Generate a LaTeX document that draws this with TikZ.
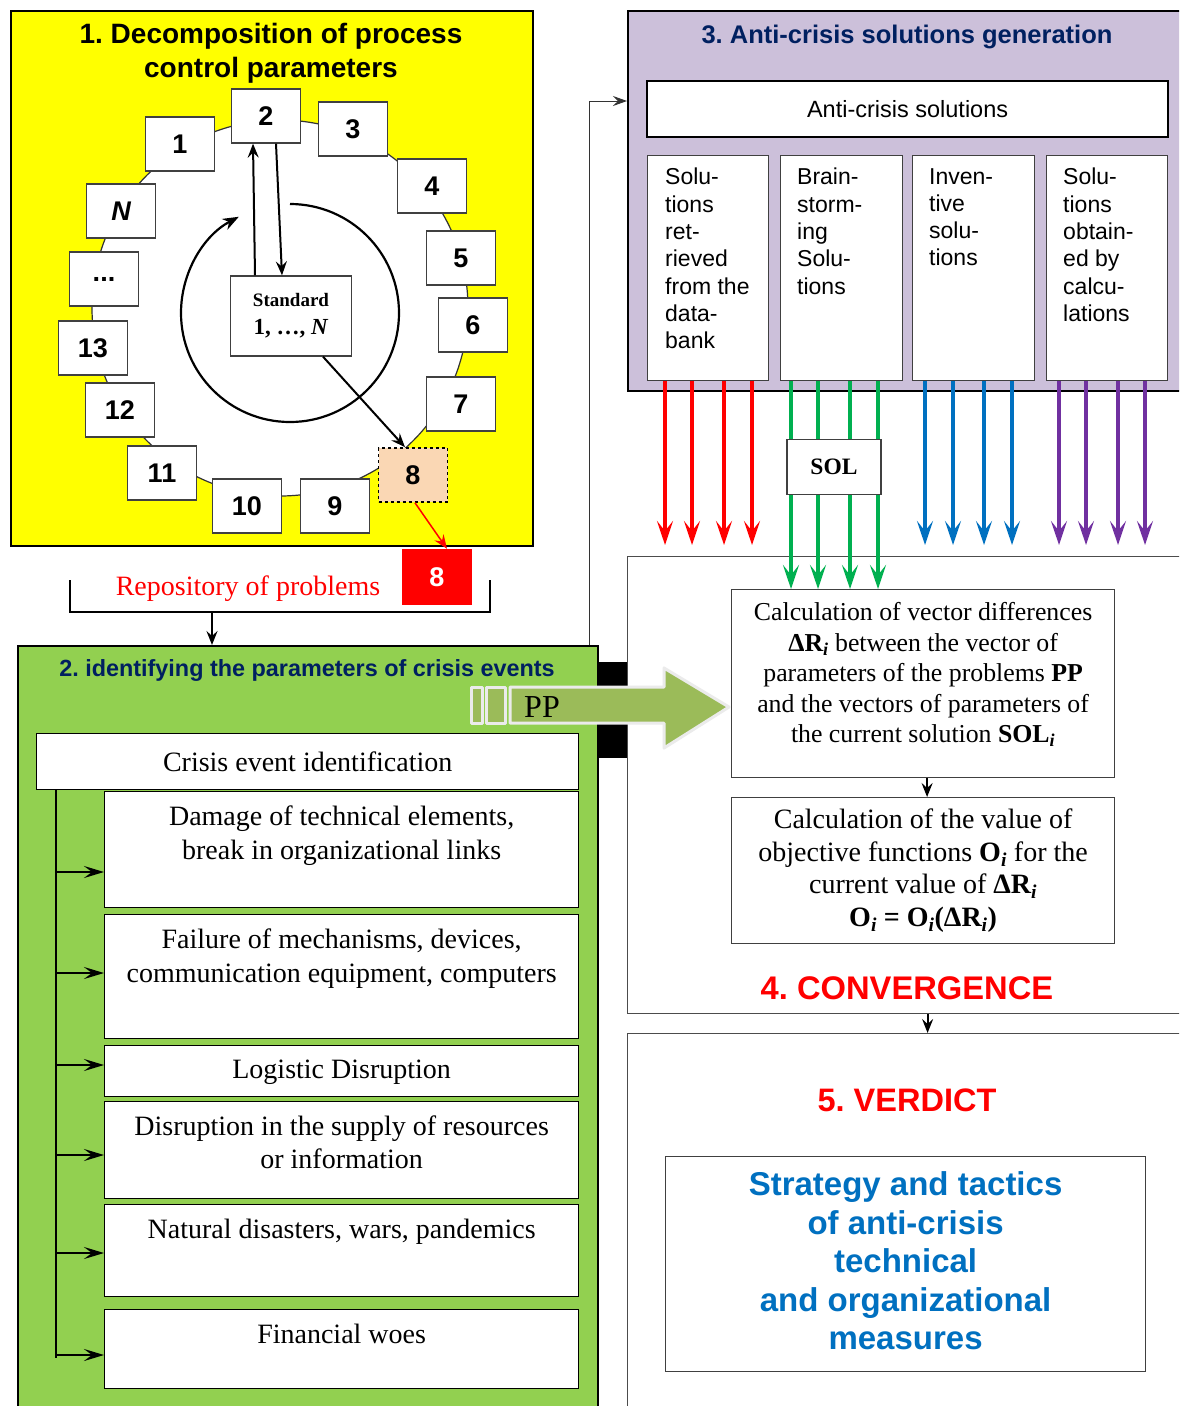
\documentclass[tikz,border=0pt]{standalone}
\usepackage{fontspec}
\setmainfont{Liberation Serif}
\setsansfont{Liberation Sans}
\usetikzlibrary{arrows.meta,positioning}
\frenchspacing
\definecolor{sunyellow}{RGB}{255,255,0}
\definecolor{leafgreen}{RGB}{146,208,80}
\definecolor{lilac}{RGB}{204,192,218}
\definecolor{navy}{RGB}{0,32,96}
\definecolor{peach}{RGB}{250,215,180}
\definecolor{olive}{RGB}{155,187,89}
\definecolor{solred}{RGB}{255,0,0}
\definecolor{solgreen}{RGB}{0,176,80}
\definecolor{solblue}{RGB}{0,112,192}
\definecolor{solviolet}{RGB}{112,48,160}
\begin{document}
\begin{tikzpicture}[
    x=1pt, y=-1pt,
    panel/.style={draw=black, line width=2pt, anchor=north west, inner sep=0pt},
    thinpanel/.style={draw=black!70, line width=1.2pt, fill=white, anchor=north west, inner sep=0pt},
    whitebox/.style={draw=black!75, fill=white, line width=1.3pt, anchor=north west, inner sep=0pt},
    numbox/.style={draw=black!75, fill=white, line width=1.3pt, minimum width=69pt, minimum height=54pt,
        inner sep=0pt, font=\sffamily\bfseries\fontsize{27}{30}\selectfont},
    paneltitle/.style={text=navy, font=\sffamily\bfseries\fontsize{25.5}{28}\selectfont},
    eventtext/.style={align=center, inner sep=0pt, font=\fontsize{28}{34}\selectfont},
    soltext/.style={align=left, anchor=north west, inner sep=0pt, font=\sffamily\fontsize{23}{27.3}\selectfont},
    linkarrow/.style={line width=2pt, -{Stealth[length=14pt, width=11pt, inset=5pt]}},
    evarrow/.style={line width=2.5pt, -{Stealth[length=20pt, width=12pt, inset=8pt]}},
    colarrow/.style={line width=3.2pt, -{Stealth[length=24pt, width=16pt, inset=10pt]}},
    pparrow/.style={fill=olive, draw=white!92!black, line width=3pt, line join=round}
]
    \useasboundingbox (0,0) rectangle (1179,1406);
    \clip (0,0) rectangle (1179,1406);

    % Panel 1: decomposition
    \node[panel, fill=sunyellow, minimum width=522pt, minimum height=535pt] (p1) at (10,10) {};
    \node[align=center, font=\sffamily\bfseries\fontsize{28}{34}\selectfont] (t1) at (271,53) {1. Decomposition of process\\control parameters};
    \node[circle, draw=black!80, fill=white, line width=1.2pt, minimum size=376pt, inner sep=0pt] (ring) at (280,308) {};
    \draw[line width=2.2pt, -{Stealth[length=16pt, width=12pt, inset=5pt]}] (290,204) arc[start angle=-90, end angle=242, radius=109];
    \node[whitebox, anchor=center, minimum width=121pt, minimum height=80pt, align=center,
        font=\bfseries\fontsize{19}{28}\selectfont] (std) at (291,316) {Standard\\{\fontsize{23}{26}\selectfont 1, …, \textit{N}}};
    % Parameter boxes round the ring
    \node[numbox] (b1) at (180,144) {1};
    \node[numbox] (b2) at (266,116) {2};
    \node[numbox] (b3) at (353,129) {3};
    \node[numbox] (b4) at (432,186) {4};
    \node[numbox] (b5) at (461,258) {5};
    \node[numbox] (b6) at (473,325) {6};
    \node[numbox] (b7) at (461,404) {7};
    \node[numbox, fill=peach, draw=black, dashed, line width=1.6pt] (b8) at (413,475) {8};
    \node[numbox] (b9) at (335,506) {9};
    \node[numbox] (b10) at (247,506) {10};
    \node[numbox] (b11) at (162,473) {11};
    \node[numbox] (b12) at (120,410) {12};
    \node[numbox] (b13) at (93,348) {13};
    \node[numbox] (bdots) at (104,279) {...};
    \node[numbox] (bN) at (121,211) {\itshape N};
    % Links to the standard
    \draw[linkarrow] ([xshift=-36pt]std.north) -- ([xshift=-13pt]b2.south);
    \draw[linkarrow] ([xshift=10pt]b2.south) -- ([xshift=-9pt]std.north);
    \draw[linkarrow] ([xshift=32pt]std.south) -- ([xshift=-8pt]b8.north);

    % Repository of problems
    \node[fill=solred, text=white, minimum width=70pt, minimum height=56pt, inner sep=0pt,
        font=\sffamily\bfseries\fontsize{27}{30}\selectfont] (rep8) at (437,577) {8};
    \node[text=solred, font=\fontsize{28}{30}\selectfont] (repo) at (248,589) {Repository of problems};
    \draw[line width=2.5pt] (70,580) -- (70,612) -- (490,612) -- (490,580);
    \draw[linkarrow, solred, line width=1.5pt] ([xshift=2pt]b8.south) -- ([xshift=10pt]rep8.north);

    % Panel 2: crisis events
    \node[panel, fill=leafgreen, minimum width=580pt, minimum height=800pt] (p2) at (17,645) {};
    \coordinate (repout) at (212,612);
    \draw[linkarrow] (repout) -- (repout |- p2.north);
    \node[paneltitle, font=\sffamily\bfseries\fontsize{23.4}{26}\selectfont] (t2) at (307,670) {2. identifying the parameters of crisis events};
    \node[whitebox, draw=black, minimum width=542pt, minimum height=56pt, font=\fontsize{28}{30}\selectfont] (crisis) at (36,733) {Crisis event identification};
    \node[whitebox, draw=black, minimum width=474pt, minimum height=116pt] (ev1) at (104,791) {};
    \node[eventtext, below=15pt of ev1.north] (ev1t) {Damage of technical elements,\\break in organizational links};
    \node[whitebox, draw=black, minimum width=474pt, minimum height=124pt] (ev2) at (104,914) {};
    \node[eventtext, below=15pt of ev2.north] (ev2t) {Failure of mechanisms, devices,\\communication equipment, computers};
    \node[whitebox, draw=black, minimum width=474pt, minimum height=51pt] (ev3) at (104,1045) {};
    \node[eventtext, below=15pt of ev3.north] (ev3t) {Logistic Disruption};
    \node[whitebox, draw=black, minimum width=474pt, minimum height=97pt] (ev4) at (104,1101) {};
    \node[eventtext, below=15pt of ev4.north, font=\fontsize{28}{33}\selectfont] (ev4t) {Disruption in the supply of resources\\or information};
    \node[whitebox, draw=black, minimum width=474pt, minimum height=92pt] (ev5) at (104,1204) {};
    \node[eventtext, below=15pt of ev5.north] (ev5t) {Natural disasters, wars, pandemics};
    \node[whitebox, draw=black, minimum width=474pt, minimum height=79pt] (ev6) at (104,1309) {};
    \node[eventtext, below=15pt of ev6.north] (ev6t) {Financial woes};
    % Spine to the events
    \coordinate (spinetop) at (56,789);
    \coordinate (spineend) at (56,1358);
    \coordinate (s1) at (56,872);
    \coordinate (s2) at (56,973);
    \coordinate (s3) at (56,1065);
    \coordinate (s4) at (56,1155);
    \coordinate (s5) at (56,1253);
    \coordinate (s6) at (56,1355);
    \draw[line width=1.5pt] (spinetop) -- (spineend);
    \draw[evarrow] (s1) -- (s1 -| ev1.west);
    \draw[evarrow] (s2) -- (s2 -| ev2.west);
    \draw[evarrow] (s3) -- (s3 -| ev3.west);
    \draw[evarrow] (s4) -- (s4 -| ev4.west);
    \draw[evarrow] (s5) -- (s5 -| ev5.west);
    \draw[evarrow] (s6) -- (s6 -| ev6.west);

    % Panel 3: solutions generation
    \node[panel, fill=lilac, minimum width=560pt, minimum height=380pt] (p3) at (627,10) {};
    \node[paneltitle] (t3) at (907,37) {3. Anti-crisis solutions generation};
    \node[whitebox, draw=black, line width=2.2pt, minimum width=521pt, minimum height=56pt,
        font=\sffamily\fontsize{23.5}{26}\selectfont] (acs) at (646,80) {Anti-crisis solutions};
    \node[whitebox, minimum width=121pt, minimum height=225pt] (sa) at (647,155) {};
    \node[soltext, below right=13pt and 18pt of sa.north west] (sat) {Solu-\\tions\\ret-\\rieved\\from the\\data-\\bank};
    \node[whitebox, minimum width=122pt, minimum height=225pt] (sb) at (780,155) {};
    \node[soltext, below right=13pt and 17pt of sb.north west] (sbt) {Brain-\\storm-\\ing\\Solu-\\tions};
    \node[whitebox, minimum width=122pt, minimum height=225pt] (sc) at (912,155) {};
    \node[soltext, below right=13pt and 17pt of sc.north west] (sct) {Inven-\\tive\\solu-\\tions};
    \node[whitebox, minimum width=121pt, minimum height=225pt] (sd) at (1046,155) {};
    \node[soltext, below right=13pt and 17pt of sd.north west] (sdt) {Solu-\\tions\\obtain-\\ed by\\calcu-\\lations};
    \coordinate (feedin) at (627,101);
    \draw[line width=1pt, black!80, -{Stealth[length=14pt, width=10pt, inset=5pt]}] (p2.north -| 589,0) |- (feedin);

    % Panel 4: convergence
    \node[thinpanel, minimum width=560pt, minimum height=457pt] (conv) at (627,556) {};
    \node[whitebox, line width=1.2pt, minimum width=383pt, minimum height=188pt, align=center, text depth=22pt,
        font=\fontsize{25.8}{30.5}\selectfont] (calc1) at (731,589) {Calculation of vector differences\\
        \textbf{ΔR\textsubscript{\textit{i}}} between the vector of\\
        parameters of the problems \textbf{PP}\\
        and the vectors of parameters of\\
        the current solution \textbf{SOL\textsubscript{\textit{i}}}};
    \node[whitebox, line width=1.2pt, minimum width=383pt, minimum height=146pt, align=center,
        font=\fontsize{28}{32.7}\selectfont] (calc2) at (731,797) {Calculation of the value of\\
        objective functions \textbf{O\textsubscript{\textit{i}}} for the\\
        current value of \textbf{ΔR\textsubscript{\textit{i}}}\\
        \textbf{O\textsubscript{\textit{i}} = O\textsubscript{\textit{i}}(ΔR\textsubscript{\textit{i}})}};
    \draw[linkarrow] ([xshift=4pt]calc1.south) -- ([xshift=4pt]calc2.north);
    \node[text=solred, font=\sffamily\bfseries\fontsize{32.7}{36}\selectfont] (ctitle) at (907,988) {4. CONVERGENCE};

    % Panel 5: verdict
    \node[thinpanel, minimum width=560pt, minimum height=400pt] (verd) at (627,1033) {};
    \draw[linkarrow] ([xshift=20pt]conv.south) -- ([xshift=20pt]verd.north);
    \node[text=solred, font=\sffamily\bfseries\fontsize{32.5}{36}\selectfont] (vtitle) at (907,1100) {5. VERDICT};
    \node[whitebox, line width=1.2pt, minimum width=480pt, minimum height=215pt, align=center, text=solblue, text depth=7pt,
        font=\sffamily\bfseries\fontsize{33}{38.5}\selectfont] (strat) at (665,1156) {Strategy and tactics\\of anti-crisis\\technical\\and organizational\\measures};

    % PP transfer
    \fill (597,662) rectangle (627,758);
    \draw[pparrow] (471,687) rectangle (482,723);
    \draw[pparrow] (486,687) rectangle (505,723);
    \draw[pparrow] (510,687) -- (664,687) -- (664,668) -- (729,707) -- (664,748) -- (664,723) -- (510,723) -- cycle;
    \node[font=\fontsize{32}{34}\selectfont] (pp) at (542,707) {PP};

    % Solutions down to the convergence
    \coordinate (convin) at ([yshift=11pt]conv.north);
    \draw[colarrow, solred] (sa.south -| 665,0) -- (convin -| 665,0);
    \draw[colarrow, solred] (sa.south -| 692,0) -- (convin -| 692,0);
    \draw[colarrow, solred] (sa.south -| 724,0) -- (convin -| 724,0);
    \draw[colarrow, solred] (sa.south -| 752,0) -- (convin -| 752,0);
    \draw[colarrow, solgreen] (sb.south -| 791,0) -- (calc1.north -| 791,0);
    \draw[colarrow, solgreen] (sb.south -| 818,0) -- (calc1.north -| 818,0);
    \draw[colarrow, solgreen] (sb.south -| 850,0) -- (calc1.north -| 850,0);
    \draw[colarrow, solgreen] (sb.south -| 878,0) -- (calc1.north -| 878,0);
    \draw[colarrow, solblue] (sc.south -| 925,0) -- (convin -| 925,0);
    \draw[colarrow, solblue] (sc.south -| 953,0) -- (convin -| 953,0);
    \draw[colarrow, solblue] (sc.south -| 984,0) -- (convin -| 984,0);
    \draw[colarrow, solblue] (sc.south -| 1012,0) -- (convin -| 1012,0);
    \draw[colarrow, solviolet] (sd.south -| 1059,0) -- (convin -| 1059,0);
    \draw[colarrow, solviolet] (sd.south -| 1086,0) -- (convin -| 1086,0);
    \draw[colarrow, solviolet] (sd.south -| 1118,0) -- (convin -| 1118,0);
    \draw[colarrow, solviolet] (sd.south -| 1145,0) -- (convin -| 1145,0);
    \node[whitebox, anchor=center, minimum width=94pt, minimum height=55pt,
        font=\bfseries\fontsize{23.5}{26}\selectfont] (sol) at (834,467) {SOL};
\end{tikzpicture}
\end{document}
